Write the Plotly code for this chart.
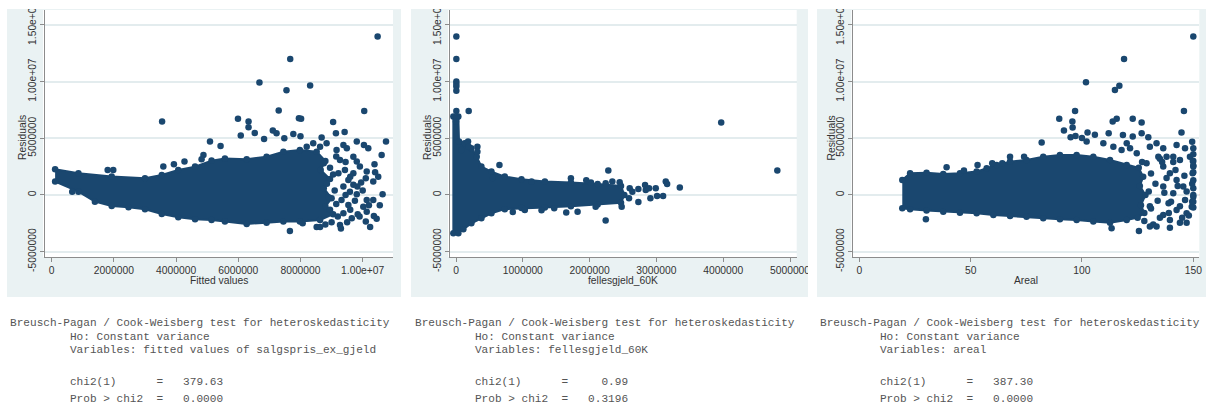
import plotly.graph_objects as go

W, H = 1209, 405
NAVY = "#1a476f"
BG = "#eaf2f3"
RED = "#dc5a70"

# ---------------- Panel 1: residuals vs fitted values (millions) ----------------
p1_cloud_x = [0.11, 0.86, 1.93, 3.00, 3.54, 4.07, 4.61, 5.14, 5.57, 6.27, 6.91, 7.45, 7.98, 8.52, 8.80,
              8.65, 8.95, 8.75, 9.00, 8.80, 9.05, 8.63, 7.98, 7.45, 6.91, 6.27, 5.57, 5.14, 4.61, 4.07,
              3.54, 3.00, 2.47, 1.93, 1.39, 0.86, 0.11]
p1_cloud_y = [2.26, 1.91, 1.62, 1.47, 1.76, 2.21, 2.50, 3.03, 3.21, 3.15, 3.38, 3.82, 3.97, 3.82, 3.00,
              2.20, 1.40, 0.60, -0.30, -1.00, -1.70, -2.21, -2.35, -2.35, -2.44, -2.56, -2.35, -2.21, -2.15, -1.97,
              -1.68, -1.26, -1.09, -0.97, -0.59, 0.29, 1.18]
p1_pts_x = [10.48, 7.67, 6.68, 8.31, 7.55, 10.05, 7.30, 3.55, 5.99, 6.33, 6.33, 7.95, 8.02, 9.05, 6.08,
            6.53, 7.11, 7.23, 7.77, 8.00, 6.83, 7.48, 9.14, 9.42, 8.68, 9.81, 10.04, 10.18, 10.75, 10.61,
            10.38, 9.38, 9.49, 9.70, 9.81, 10.13, 10.40, 10.10, 9.83, 10.34, 10.64, 9.81, 10.13, 10.34, 10.02,
            10.13, 10.36, 10.10, 10.24, 9.84, 7.66, 8.52, 8.63, 8.07, 9.27, 5.09, 5.43, 4.88, 4.82, 4.27,
            3.93, 3.59, 1.80, 1.98, 0.66, 9.16, 9.27, 9.43, 9.22, 9.54, 9.38, 9.59, 9.32, 9.54, 9.38,
            9.65, 9.70, 9.91, 8.84, 8.63, 8.41, 8.20,
            8.75, 8.95, 9.05, 8.85, 9.10, 8.90, 9.15, 8.95, 9.20, 9.00, 9.45, 9.60, 9.70, 9.45, 9.75,
            9.60, 9.90, 9.50, 9.95, 10.00, 10.20, 10.50, 10.55, 10.45, 9.15, 9.30, 8.80]
p1_pts_y = [13.97, 12.00, 9.91, 9.65, 9.24, 7.41, 7.44, 6.47, 6.71, 6.47, 5.97, 6.76, 6.71, 6.44, 5.24,
            5.47, 5.68, 5.44, 5.38, 5.18, 4.94, 5.00, 5.44, 5.56, 5.06, 4.71, 4.41, 4.12, 4.71, 3.53,
            2.71, 4.41, 4.12, 3.38, 2.94, 2.06, 2.00, 1.47, 0.74, 1.18, 0.06, 0.06, -0.44, -0.44, -1.03,
            -1.47, -1.85, -2.35, -2.82, -1.71, -3.18, -2.82, -2.82, -2.50, -2.65, 4.71, 4.32, 3.53, 3.15, 2.94,
            2.71, 2.50, 2.21, 2.21, 0.29, 3.97, 3.09, 2.21, 1.91, 1.32, 0.74, 0.29, -0.44, -0.88, -1.62,
            -2.06, 1.91, 2.50, 4.56, 4.26, 4.56, 4.26,
            2.80, 2.40, 1.80, 1.00, 0.40, -0.20, -0.80, -1.30, -1.90, -2.40, 2.90, 1.60, 0.90, 0.00, -0.50,
            -1.30, -1.90, -2.40, 1.10, 0.40, -0.90, 1.60, -0.90, -2.10, 3.40, -2.95, -2.60]

# ---------------- Panel 2: residuals vs fellesgjeld_60K (millions) ----------------
p2_cloud_x = [-0.04, -0.04, 0.035, 0.045, 0.13, 0.23, 0.31, 0.38, 0.53, 0.73, 0.98, 1.33, 1.72, 2.12, 2.47,
              2.52, 2.47, 2.12, 1.72, 1.33, 0.98, 0.73, 0.53, 0.38, 0.23, 0.11, 0.035]
p2_cloud_y = [-3.38, 6.91, 6.91, 4.71, 4.56, 4.12, 3.38, 2.50, 2.06, 1.62, 1.38, 1.18, 1.09, 0.97, 0.79,
              0.00, -0.68, -0.85, -1.00, -1.10, -1.15, -1.25, -1.62, -2.06, -2.50, -3.03, -3.38]
p2_pts_x = [0.005, 0.005, 0.005, 0.005, 0.005, 0.005, 0.005, 0.19, 0.005, 0.0, 0.18, 0.19, 0.32, 0.32, 0.65,
            2.28, 3.97, 4.81, 2.24, 2.34, 2.45, 2.60, 2.64, 2.73, 2.83, 2.84, 2.89, 2.99, 3.14, 3.16,
            3.35, 2.91, 3.01, 3.10, 2.73, 2.59, 2.48, 2.24, 2.09, 1.72, 2.02, 1.13, 1.47, 1.82, 1.03,
            0.08, 1.28, 0.85, 1.65, 0.55, 1.95]
p2_pts_y = [13.97, 12.00, 10.00, 9.79, 9.56, 9.18, 7.41, 7.41, 6.76, 6.47, 4.71, 4.26, 4.26, 3.82, 2.65,
            2.15, 6.38, 2.15, 1.03, 1.18, 1.12, 0.59, 0.29, 0.53, 0.88, 0.44, 0.59, 0.59, 1.18, 0.97,
            0.65, -0.29, -0.09, -0.09, -0.62, -0.29, -1.03, -2.26, -1.03, 1.47, 1.09, 1.18, -1.18, -1.47, -1.32,
            3.97, -1.35, -1.50, -1.55, 1.50, 1.30]

# ---------------- Panel 3: residuals vs Areal ----------------
p3_cloud_x = [19.3, 22.8, 30.2, 37.7, 45.2, 52.7, 57.2, 61.7, 67.7, 75.1, 82.6, 90.1, 97.6, 105.1, 112.6,
              120.1, 125.5, 127.5, 126.0, 128.5, 126.5, 128.0, 125.0, 120.1, 112.6, 105.1, 97.6, 90.1, 82.6, 75.1,
              67.7, 60.2, 52.7, 45.2, 37.7, 30.2, 22.8, 19.3]
p3_cloud_y = [1.32, 1.91, 1.97, 1.85, 1.91, 2.06, 2.35, 2.65, 2.94, 3.09, 3.38, 3.53, 3.53, 3.38, 3.09,
              2.65, 2.40, 1.60, 0.80, 0.00, -0.90, -1.60, -2.00, -2.21, -2.44, -2.35, -2.21, -2.15, -2.06, -1.91,
              -1.85, -1.76, -1.62, -1.56, -1.47, -1.38, -1.26, -1.18]
p3_pts_x = [150.0, 118.9, 101.8, 114.8, 116.8, 145.8, 96.9, 89.8, 95.7, 95.8, 115.6, 113.8, 122.8, 126.8, 91.9,
            94.9, 97.1, 100.0, 102.5, 105.8, 112.0, 118.4, 122.8, 126.8, 129.8, 144.7, 81.9, 102.1, 109.6, 114.1,
            120.1, 117.8, 121.6, 124.6, 130.5, 133.5, 136.5, 138.0, 142.5, 146.3, 148.5, 150.0, 150.0, 149.7, 67.7,
            39.2, 47.0, 53.1, 59.7, 64.2, 74.0, 29.9, 125.6, 139.5, 113.3, 130.5, 133.5, 144.0, 147.0, 150.0,
            136.5, 139.5, 142.5, 145.5, 136.5, 141.0, 146.3, 138.9, 142.5, 147.0, 136.5, 139.5, 149.3, 144.0, 141.0,
            134.3,
            129.0, 131.0, 133.0, 130.0, 134.0, 131.0, 135.0, 128.0, 136.0, 138.0, 137.0, 140.0, 139.0, 142.0, 143.0,
            144.0, 146.0, 147.0, 148.0, 149.5, 149.5, 149.8, 145.0, 141.0, 135.0,
            150.0, 150.0, 150.0, 150.0, 150.0, 150.0, 150.0, 150.0, 150.0, 149.5, 132.0, 127.0, 130.5]
p3_pts_y = [13.97, 12.00, 9.94, 9.26, 9.62, 7.41, 7.41, 6.71, 6.47, 5.94, 6.71, 6.47, 6.71, 6.38, 5.68,
            5.09, 5.21, 5.03, 5.50, 5.32, 5.44, 5.29, 5.15, 5.44, 5.09, 5.50, 4.62, 4.71, 4.56, 4.26,
            4.56, 3.97, 4.12, 3.68, 4.26, 4.56, 4.12, 3.38, 4.41, 4.12, 3.38, 4.12, 2.50, 1.91, 3.38,
            2.44, 2.15, 2.65, 2.79, 2.79, 3.38, -2.15, -3.18, -2.88, -2.94, -2.79, -2.79, -2.44, -2.44, -0.15,
            2.50, 1.91, 1.32, 0.74, 0.74, 0.15, -0.44, -0.74, -1.32, -1.62, -1.76, -2.21, -1.03, 3.09, 3.38,
            3.38,
            2.80, 1.90, 1.00, 0.30, -0.50, -1.20, -2.00, -2.30, 2.90, 1.50, 0.20, -0.60, -1.60, 2.20, 0.80,
            -1.00, 1.70, 0.30, -1.80, 1.00, -0.60, 3.00, -2.00, 2.90, 3.20,
            3.60, 3.00, 2.60, 2.00, 1.30, 0.60, 0.00, -0.60, -1.10, 4.70, -2.60, 2.90, -1.00]

# ---------------- Ticks ----------------
y_tickvals = [-5e6, 0, 5e6, 1e7, 1.5e7]
y_ticktext = ["-5000000", "0", "5000000", "1.00e+07", "1.50e+07"]
p1_xtickvals = [0, 2e6, 4e6, 6e6, 8e6, 1e7]
p1_xticktext = ["0", "2000000", "4000000", "6000000", "8000000", "1.00e+07"]
p2_xtickvals = [0, 1e6, 2e6, 3e6, 4e6, 5e6]
p2_xticktext = ["0", "1000000", "2000000", "3000000", "4000000", "5000000"]
p3_xtickvals = [0, 50, 100, 150]
p3_xticktext = ["0", "50", "100", "150"]

x_titles = ["Fitted values", "fellesgjeld_60K", "Areal"]
y_title = "Residuals"

texts = [
    ["Breusch-Pagan / Cook-Weisberg test for heteroskedasticity",
     "         Ho: Constant variance",
     "         Variables: fitted values of salgspris_ex_gjeld",
     "         chi2(1)      =   379.63",
     "         Prob > chi2  =   0.0000"],
    ["Breusch-Pagan / Cook-Weisberg test for heteroskedasticity",
     "         Ho: Constant variance",
     "         Variables: fellesgjeld_60K",
     "         chi2(1)      =     0.99",
     "         Prob > chi2  =   0.3196"],
    ["Breusch-Pagan / Cook-Weisberg test for heteroskedasticity",
     "         Ho: Constant variance",
     "         Variables: areal",
     "         chi2(1)      =   387.30",
     "         Prob > chi2  =   0.0000"],
]

M = 1e6
panels = [
    dict(cx=[v * M for v in p1_cloud_x], cy=[v * M for v in p1_cloud_y],
         px=[v * M for v in p1_pts_x], py=[v * M for v in p1_pts_y],
         xt=(p1_xtickvals, p1_xticktext), xr=[-0.215e6, 10.975e6],
         bg=(7, 401), plot=(45, 393), ytitle_x=22.0, text_x=9.3),
    dict(cx=[v * M for v in p2_cloud_x], cy=[v * M for v in p2_cloud_y],
         px=[v * M for v in p2_pts_x], py=[v * M for v in p2_pts_y],
         xt=(p2_xtickvals, p2_xticktext), xr=[-0.09e6, 5.10e6],
         bg=(411, 808), plot=(450, 796.7), ytitle_x=427.0, text_x=414.3),
    dict(cx=p3_cloud_x, cy=[v * M for v in p3_cloud_y],
         px=p3_pts_x, py=[v * M for v in p3_pts_y],
         xt=(p3_xtickvals, p3_xticktext), xr=[-2.7, 152.7],
         bg=(817, 1206), plot=(853.3, 1199.3), ytitle_x=830.5, text_x=819.3),
]

def fx(p):
    return p / W

def fy(p):
    return 1 - p / H

fig = go.Figure()
shapes = []
annotations = []
TICKFONT = dict(family="Liberation Sans, Arial, sans-serif", size=10.3, color="#333333")
MONO = dict(family="Liberation Mono, Courier New, monospace", size=11.1, color="#555555")
line_y = [323.3, 336.7, 350.0, 381.7, 398.5]

for i, p in enumerate(panels, start=1):
    xa = "x" if i == 1 else f"x{i}"
    ya = "y" if i == 1 else f"y{i}"
    fig.add_trace(go.Scatter(x=p["cx"], y=p["cy"], mode="lines+markers", fill="toself",
                             fillcolor=NAVY, line=dict(color=NAVY, width=2),
                             marker=dict(color=NAVY, size=6.5), xaxis=xa, yaxis=ya,
                             showlegend=False, hoverinfo="skip"))
    fig.add_trace(go.Scatter(x=p["px"], y=p["py"], mode="markers",
                             marker=dict(color=NAVY, size=6.5, line=dict(width=0)),
                             xaxis=xa, yaxis=ya, showlegend=False))
    axx = dict(domain=[fx(p["plot"][0]), fx(p["plot"][1])], range=p["xr"], anchor=ya,
               tickmode="array", tickvals=p["xt"][0], ticktext=p["xt"][1],
               showgrid=False, zeroline=False, showline=True, linecolor="#8c8c8c", linewidth=1,
               ticks="outside", ticklen=4, tickcolor="#8c8c8c", tickfont=TICKFONT, automargin=False)
    axy = dict(domain=[fy(257), fy(10)], range=[-5.47e6, 16.31e6], anchor=xa,
               tickmode="array", tickvals=y_tickvals, ticktext=y_ticktext, tickangle=-90,
               showgrid=True, gridcolor="#e3ecee", gridwidth=1.5, zeroline=False,
               showline=True, linecolor="#8c8c8c", linewidth=1,
               ticks="outside", ticklen=4, tickcolor="#8c8c8c", tickfont=TICKFONT, automargin=False)
    fig.update_layout(**{("xaxis" if i == 1 else f"xaxis{i}"): axx,
                         ("yaxis" if i == 1 else f"yaxis{i}"): axy})
    shapes.append(dict(type="rect", xref="paper", yref="paper", layer="below",
                       x0=fx(p["bg"][0]), x1=fx(p["bg"][1]), y0=fy(297), y1=fy(8),
                       fillcolor=BG, line=dict(width=0)))
    shapes.append(dict(type="rect", xref="paper", yref="paper", layer="below",
                       x0=fx(p["plot"][0] - 2), x1=fx(p["plot"][1]), y0=fy(257), y1=fy(10),
                       fillcolor="white", line=dict(width=0)))
    shapes.append(dict(type="line", xref=f"{xa} domain", yref=ya, layer="below",
                       x0=0, x1=1, y0=0, y1=0, line=dict(color=RED, width=1.3)))
    cx = (p["plot"][0] + p["plot"][1]) / 2
    annotations.append(dict(text=x_titles[i - 1], xref="paper", yref="paper", x=fx(cx), y=fy(280),
                            xanchor="center", yanchor="middle", showarrow=False, font=TICKFONT))
    annotations.append(dict(text=y_title, xref="paper", yref="paper", x=fx(p["ytitle_x"]), y=fy(138),
                            xanchor="center", yanchor="middle", textangle=-90, showarrow=False,
                            font=TICKFONT))
    for j, t in enumerate(texts[i - 1]):
        annotations.append(dict(text=t.replace(" ", "\u00a0"), xref="paper", yref="paper",
                                x=fx(p["text_x"]), y=fy(line_y[j]), xanchor="left", yanchor="middle",
                                showarrow=False, font=MONO, borderpad=0))

shapes.append(dict(type="rect", xref="paper", yref="paper", layer="above",
                   x0=0, x1=1, y0=fy(9), y1=1, fillcolor="white", line=dict(width=0)))
shapes.append(dict(type="rect", xref="paper", yref="paper", layer="above",
                   x0=fx(808), x1=fx(817), y0=fy(297), y1=fy(258), fillcolor="white", line=dict(width=0)))

fig.update_layout(width=W, height=H, margin=dict(l=0, r=0, t=0, b=0, autoexpand=False),
                  paper_bgcolor="white", plot_bgcolor="white",
                  shapes=shapes, annotations=annotations, showlegend=False)

fig.write_html("out.html")
